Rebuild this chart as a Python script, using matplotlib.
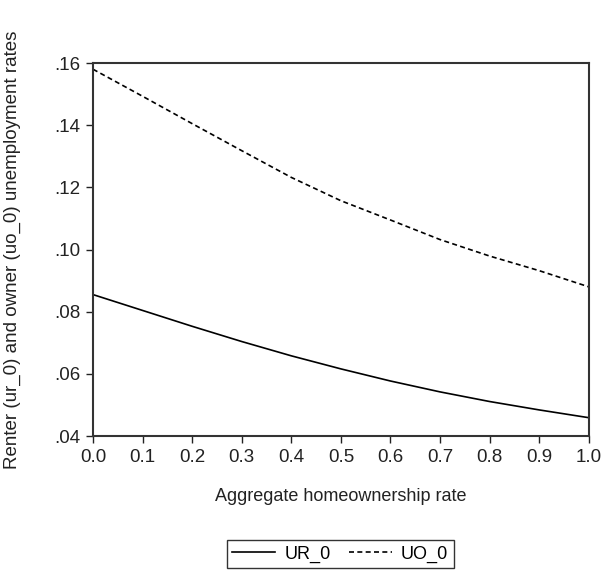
import matplotlib.pyplot as plt
from matplotlib.ticker import FuncFormatter

# data
x = [0.0, 0.1, 0.2, 0.3, 0.4, 0.5, 0.6, 0.7, 0.8, 0.9, 1.0]
ur_0 = [0.0855, 0.0804, 0.0753, 0.0704, 0.0658, 0.0616, 0.0577, 0.0542, 0.0511, 0.0484, 0.0459]
uo_0 = [0.1580, 0.1493, 0.1405, 0.1318, 0.1232, 0.1157, 0.1095, 0.1032, 0.0979, 0.0932, 0.0880]

plt.rcParams['font.family'] = ['Liberation Sans', 'DejaVu Sans']

fig = plt.figure(figsize=(6.02, 5.75), dpi=100)
ax = fig.add_axes([0.1545, 0.2417, 0.8235, 0.6487])

ax.plot(x, ur_0, color='black', linewidth=1.2, label='UR_0')
ax.plot(x, uo_0, color='black', linewidth=1.2, linestyle=(0, (3, 2)), label='UO_0')

ax.set_xlim(0, 1)
ax.set_ylim(0.04, 0.16)
ax.set_xticks([i / 10 for i in range(11)])
ax.set_yticks([0.04, 0.06, 0.08, 0.10, 0.12, 0.14, 0.16])
ax.xaxis.set_major_formatter(FuncFormatter(lambda v, p: '%.1f' % v))
ax.yaxis.set_major_formatter(FuncFormatter(lambda v, p: ('%.2f' % v).lstrip('0')))
ax.tick_params(direction='out', length=5, width=1, labelsize=13.5, colors='#222222', pad=4)

for s in ax.spines.values():
    s.set_linewidth(1.5)
    s.set_color('#333333')

ax.set_xlabel('Aggregate homeownership rate', fontsize=13, color='#222222', labelpad=16)
ax.set_ylabel('Renter (ur_0) and owner (uo_0) unemployment rates', fontsize=13.5,
              color='#222222', labelpad=24)

fig.legend(loc='lower center', bbox_to_anchor=(0.565, 0.012), ncol=2, fontsize=13,
           frameon=True, fancybox=False, edgecolor='black', handlelength=2.4,
           columnspacing=1.0, handletextpad=0.5, borderaxespad=0, borderpad=0.3)

fig.savefig('out.png', dpi=100)
